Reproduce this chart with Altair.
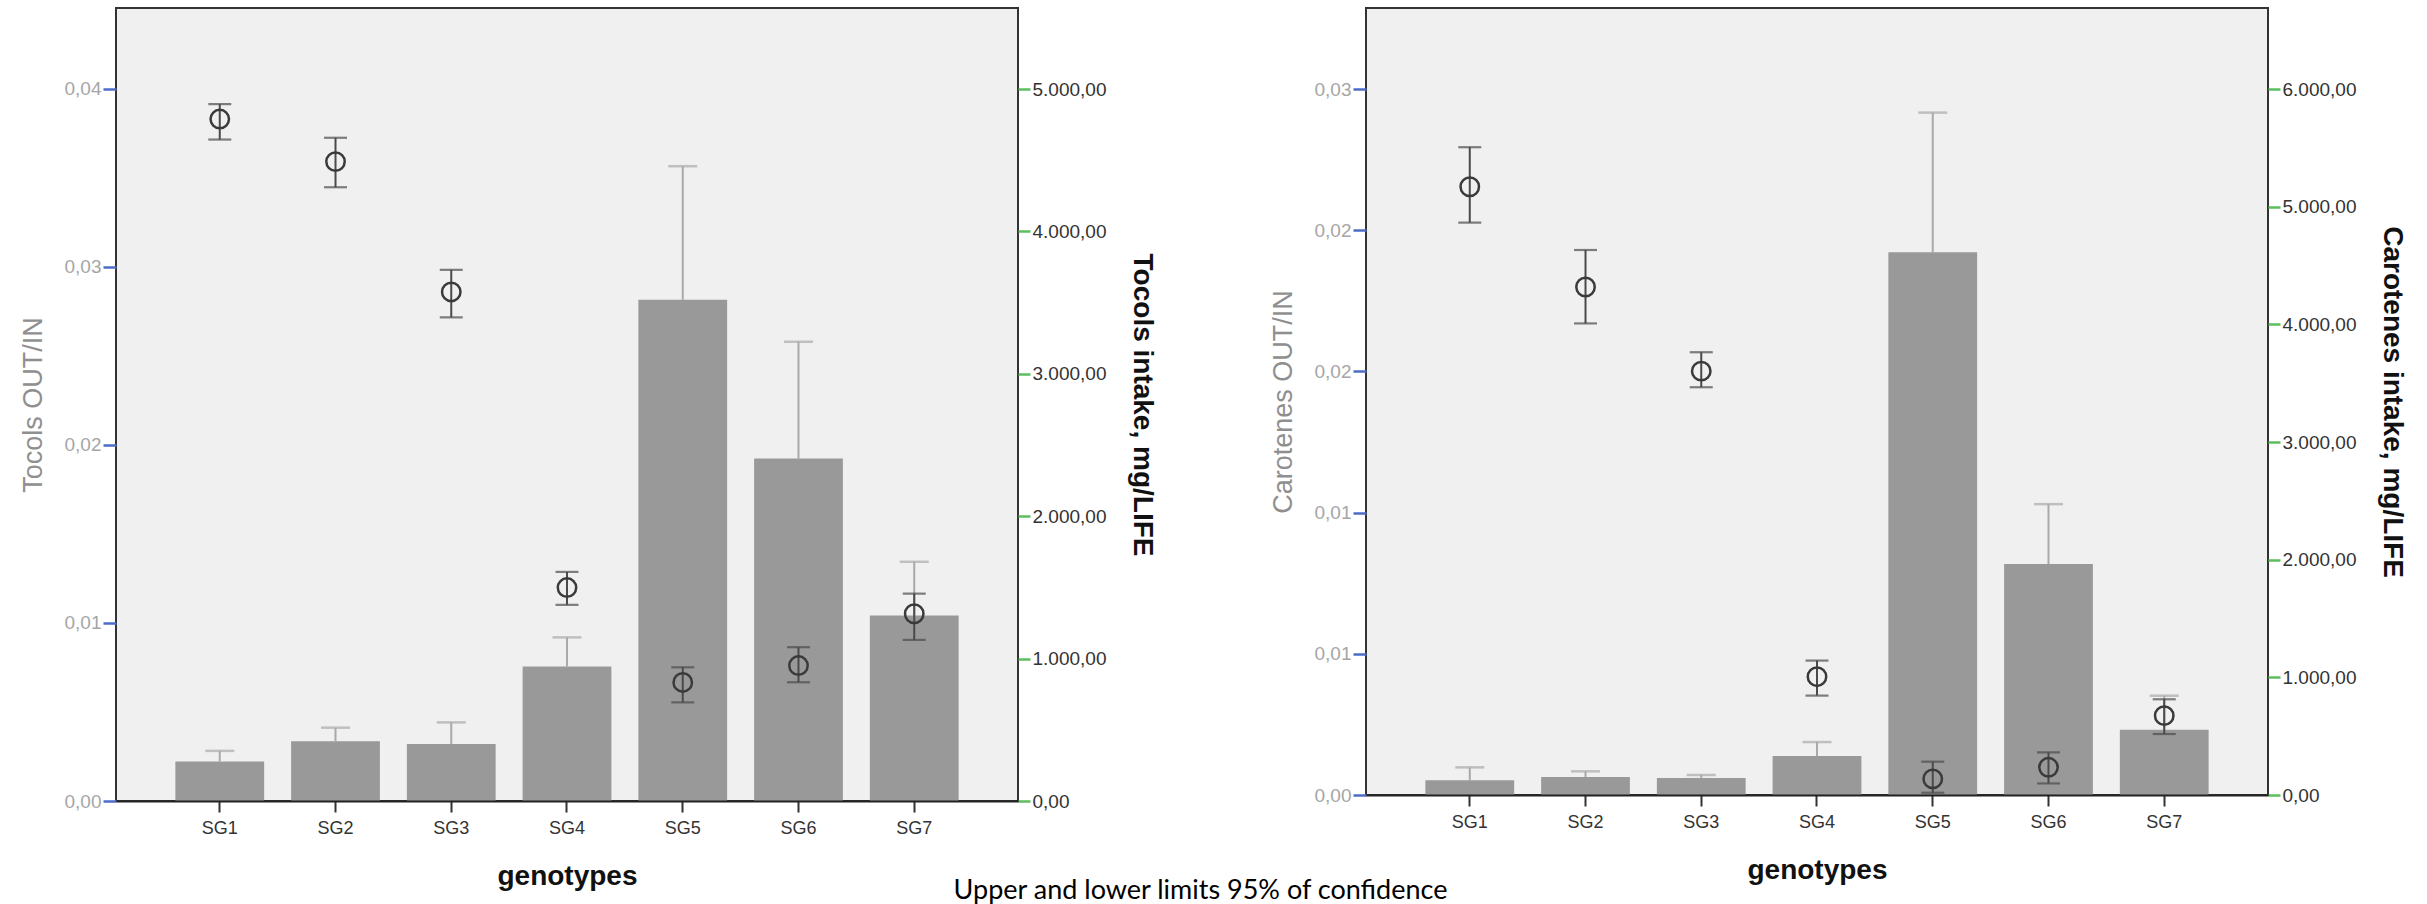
import altair as alt
import pandas as pd

genotypes = ["SG1", "SG2", "SG3", "SG4", "SG5", "SG6", "SG7"]

# Tocols panel
toc_intake_mean = [277, 420, 400, 945, 3520, 2405, 1303]
toc_intake_upper = [352, 515, 552, 1149, 4458, 3225, 1680]
toc_ratio_mean = [0.03831, 0.03592, 0.02860, 0.01199, 0.00666, 0.00761, 0.01052]
toc_ratio_lower = [0.03716, 0.03448, 0.02717, 0.01102, 0.00554, 0.00667, 0.00905]
toc_ratio_upper = [0.03915, 0.03726, 0.02984, 0.01287, 0.00751, 0.00864, 0.01165]

# Carotenes panel
car_intake_mean = [125, 152, 144, 331, 4613, 1963, 555]
car_intake_upper = [235, 201, 170, 450, 5800, 2472, 844]
car_ratio_mean = [0.02154, 0.01799, 0.01501, 0.00419, 0.00057, 0.00098, 0.00281]
car_ratio_lower = [0.02027, 0.01670, 0.01444, 0.00352, 0.00008, 0.00041, 0.00216]
car_ratio_upper = [0.02294, 0.01930, 0.01568, 0.00476, 0.00118, 0.00151, 0.00339]

# Axis ticks and labels
toc_ratio_ticks = [0, 0.01, 0.02, 0.03, 0.04]
toc_ratio_labels = ["0,00", "0,01", "0,02", "0,03", "0,04"]
toc_intake_ticks = [0, 1000, 2000, 3000, 4000, 5000]
toc_intake_labels = ["0,00", "1.000,00", "2.000,00", "3.000,00", "4.000,00", "5.000,00"]
car_ratio_ticks = [0, 0.005, 0.01, 0.015, 0.02, 0.025]
car_ratio_labels = ["0,00", "0,01", "0,01", "0,02", "0,02", "0,03"]
car_intake_ticks = [0, 1000, 2000, 3000, 4000, 5000, 6000]
car_intake_labels = ["0,00", "1.000,00", "2.000,00", "3.000,00", "4.000,00", "5.000,00", "6.000,00"]

caption = "Upper and lower limits 95% of confidence"

PW = 902
FONT = "Liberation Sans"


def label_expr(vals, labels):
    expr = "''"
    for v, l in reversed(list(zip(vals, labels))):
        expr = f"abs(datum.value - ({v})) < 1e-9 ? '{l}' : ({expr})"
    return expr


def panel(r_mean, r_lo, r_hi, i_mean, i_hi, r_dom, i_dom, r_ticks, r_labels,
          i_ticks, i_labels, left_title, right_title, height):
    df = pd.DataFrame({
        "genotype": genotypes,
        "r_mean": r_mean, "r_lo": r_lo, "r_hi": r_hi,
        "i_mean": i_mean, "i_hi": i_hi,
    })
    base = alt.Chart(df)
    xenc = alt.X(
        "genotype:N", sort=genotypes,
        scale=alt.Scale(paddingInner=0.233, paddingOuter=0.513),
        axis=alt.Axis(
            title="genotypes", labelAngle=0, labelFont=FONT, labelFontSize=18,
            labelColor="#333333", tickColor="#333333", tickSize=11, tickWidth=2,
            domain=True, domainColor="#222222", domainWidth=2, labelPadding=7,
            titleFont=FONT, titleFontSize=28, titleFontWeight="bold",
            titleColor="#111111", titlePadding=25, zindex=1,
        ),
    )
    i_scale = alt.Scale(domain=i_dom, nice=False, zero=True)
    i_axis = alt.Axis(
        orient="right", values=i_ticks, labelExpr=label_expr(i_ticks, i_labels),
        title=right_title, grid=False, domain=False, tickColor="#5DBE5D",
        tickSize=12, tickWidth=2.5, labelColor="#333333", labelFont=FONT,
        labelFontSize=19, labelPadding=2, titleFont=FONT, titleFontSize=28,
        titleFontWeight="bold", titleColor="#111111", titlePadding=22,
    )
    r_scale = alt.Scale(domain=r_dom, nice=False, zero=True)
    r_axis = alt.Axis(
        orient="left", values=r_ticks, labelExpr=label_expr(r_ticks, r_labels),
        title=left_title, grid=False, domain=False, tickColor="#4B6CC8",
        tickSize=13, tickWidth=2.5, labelColor="#A6A6A6", labelFont=FONT,
        labelFontSize=19, labelPadding=2, titleFont=FONT, titleFontSize=27,
        titleFontWeight="normal", titleColor="#8F8F8F", titlePadding=17,
    )

    def yi(field):
        return alt.Y(f"{field}:Q", scale=i_scale, axis=i_axis, title=right_title)

    def yr(field):
        return alt.Y(f"{field}:Q", scale=r_scale, axis=r_axis, title=left_title)

    whisk = base.mark_rule(color="#A9A9A9", strokeWidth=2).encode(
        x=xenc, y=yi("i_mean"), y2="i_hi:Q")
    wcap = base.mark_tick(orient="horizontal", color="#A9A9A9", thickness=2.5,
                          size=29).encode(x=xenc, y=yi("i_hi"))
    bar = base.mark_bar(color="#999999").encode(x=xenc, y=yi("i_mean"))
    intake_layer = alt.layer(whisk, wcap, bar)

    crule = base.mark_rule(color="#4A4A4A", strokeWidth=2).encode(
        x=xenc, y=yr("r_lo"), y2="r_hi:Q")
    ccap_lo = base.mark_tick(orient="horizontal", color="#4A4A4A", thickness=2.2,
                             size=23).encode(x=xenc, y=yr("r_lo"))
    ccap_hi = base.mark_tick(orient="horizontal", color="#4A4A4A", thickness=2.2,
                             size=23).encode(x=xenc, y=yr("r_hi"))
    circ = base.mark_point(shape="circle", filled=False, size=340, strokeWidth=2.5,
                           color="#3A3A3A", opacity=1).encode(x=xenc, y=yr("r_mean"))
    ratio_layer = alt.layer(crule, ccap_lo, ccap_hi, circ)

    return alt.layer(intake_layer, ratio_layer).resolve_scale(y="independent").properties(
        width=PW, height=height)


left = panel(toc_ratio_mean, toc_ratio_lower, toc_ratio_upper, toc_intake_mean,
             toc_intake_upper, [0, 0.04455], [0, 5569], toc_ratio_ticks,
             toc_ratio_labels, toc_intake_ticks, toc_intake_labels,
             "Tocols OUT/IN", "Tocols intake, mg/LIFE", 793)
right = panel(car_ratio_mean, car_ratio_lower, car_ratio_upper, car_intake_mean,
              car_intake_upper, [0, 0.02787], [0, 6689], car_ratio_ticks,
              car_ratio_labels, car_intake_ticks, car_intake_labels,
              "Carotenes OUT/IN", "Carotenes intake, mg/LIFE", 787)

chart = alt.hconcat(left, right, spacing=111).properties(
    padding={"left": 18, "top": 7, "right": 5, "bottom": 0},
    background="white",
    title=alt.TitleParams(text=caption, orient="bottom", anchor="middle",
                          font="Lato", fontSize=27, fontWeight="normal",
                          color="#000000", offset=-13, dx=-12),
).configure_view(fill="#F0F0F0", stroke="#333333", strokeWidth=2)

chart.save("out.html", embed_options={"renderer": "svg", "actions": False})
